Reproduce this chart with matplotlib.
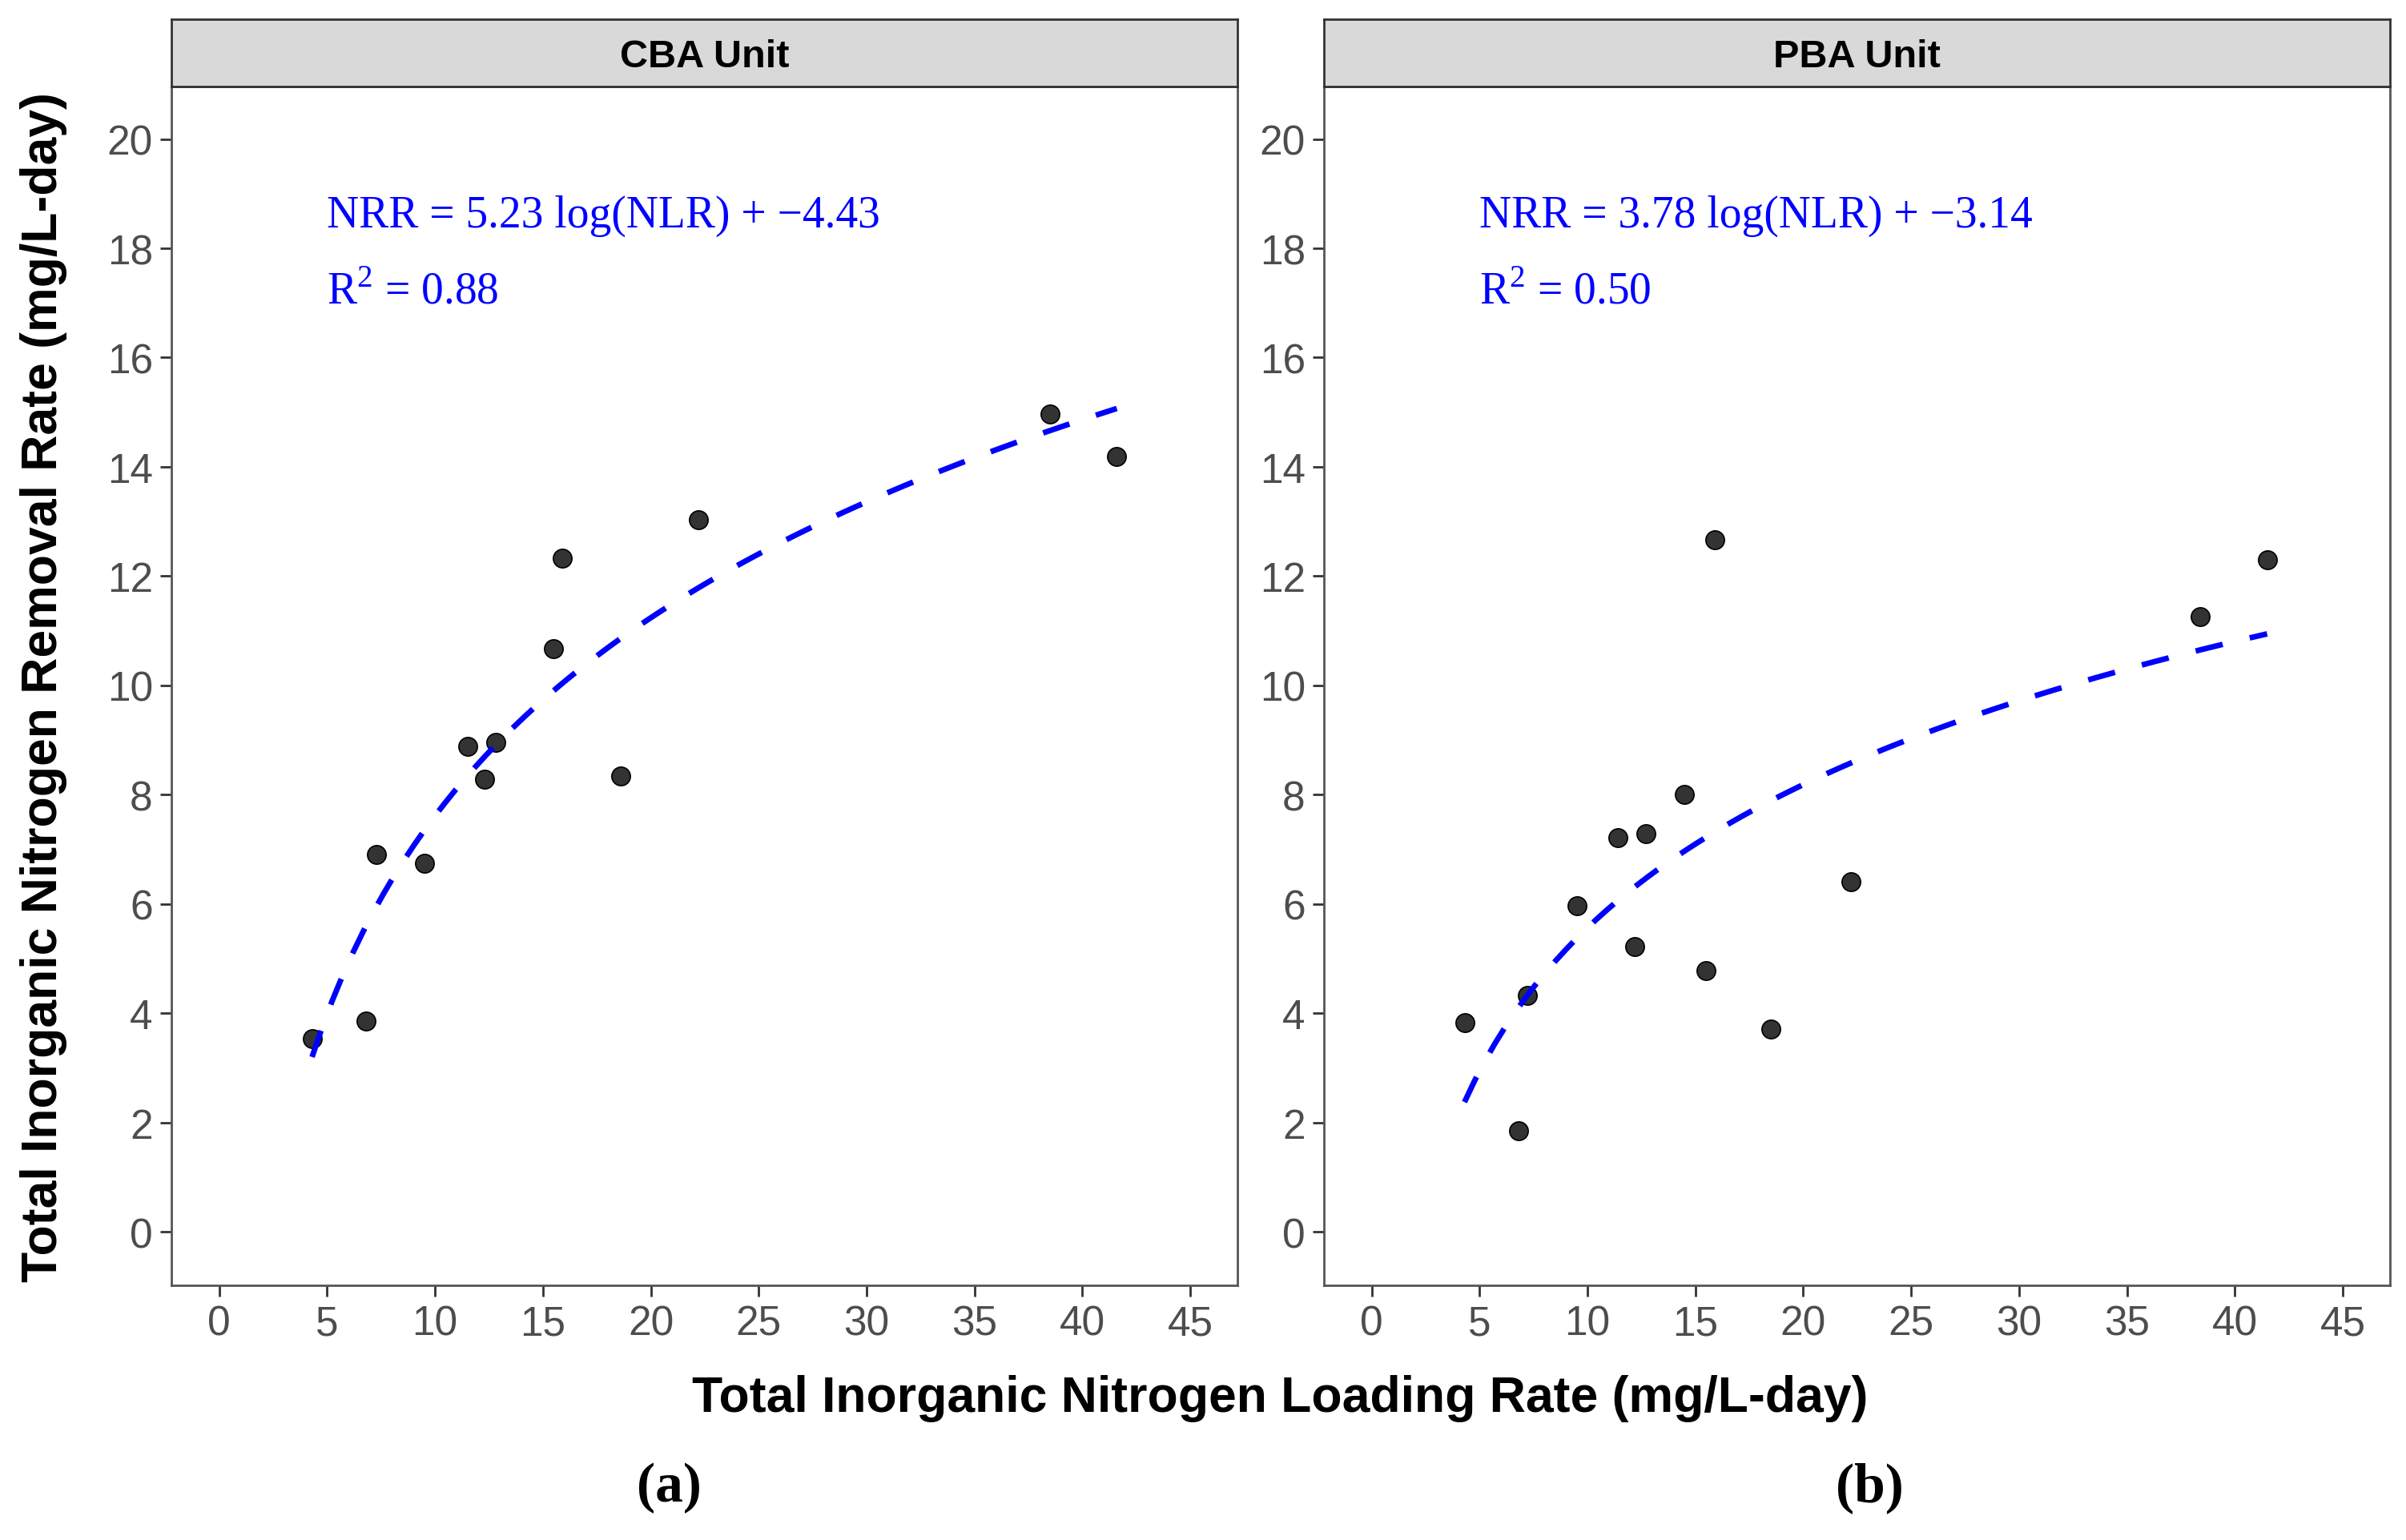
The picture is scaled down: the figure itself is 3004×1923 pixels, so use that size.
import numpy as np
import matplotlib
matplotlib.use('Agg')
import matplotlib.pyplot as plt

# data
cba_nlr = [4.3, 6.8, 7.3, 9.5, 11.5, 12.3, 12.8, 15.5, 15.9, 18.6, 22.2, 38.5, 41.6]
cba_nrr = [3.54, 3.85, 6.91, 6.74, 8.88, 8.29, 8.96, 10.67, 12.33, 8.34, 13.03, 14.97, 14.19]

pba_nlr = [4.3, 6.8, 7.2, 9.5, 11.4, 12.2, 12.7, 14.5, 15.5, 15.9, 18.5, 22.2, 38.4, 41.5]
pba_nrr = [3.82, 1.85, 4.33, 5.96, 7.22, 5.22, 7.28, 8.01, 4.78, 12.67, 3.71, 6.40, 11.26, 12.30]

# fitted log models (coefficients as printed on the chart)
cba_fit = (5.23, -4.43, '0.88')
pba_fit = (3.78, -3.14, '0.50')

panels = [('CBA Unit', cba_nlr, cba_nrr, cba_fit, '(a)'),
          ('PBA Unit', pba_nlr, pba_nrr, pba_fit, '(b)')]

xticks = list(range(0, 50, 5))
yticks = list(range(0, 22, 2))

plt.rcParams['font.family'] = 'Liberation Sans'
plt.rcParams['mathtext.fontset'] = 'custom'
plt.rcParams['mathtext.rm'] = 'Liberation Serif'

fig = plt.figure(figsize=(15.02, 9.62), dpi=200)
lefts = [0.0714, 0.5504]
tag_x = [0.278, 0.777]
ax_w = 0.443
ax_b = 0.1653
ax_h = 0.778
strip_h = 0.0438

for left, tx, (title, x, y, fit, tag) in zip(lefts, tag_x, panels):
    ax = fig.add_axes([left, ax_b, ax_w, ax_h])
    a, b, r2 = fit
    xs = np.linspace(min(x), max(x), 80)
    ax.plot(xs, a*np.log(xs) + b, color='blue', lw=2.5, dashes=(5, 5), zorder=3)
    ax.scatter(x, y, s=70, color='#333333', edgecolor='black', linewidth=0.6, zorder=2)

    ax.set_xlim(-2.2, 47.2)
    ax.set_ylim(-0.98, 20.96)
    ax.set_xticks(xticks)
    ax.set_yticks(yticks)
    ax.tick_params(labelsize=18.5, labelcolor='#4D4D4D', color='#333333', length=5, width=1)
    for s in ax.spines.values():
        s.set_color('#555555')
        s.set_linewidth(1.0)

    ax.text(5.0, 18.6, 'NRR = %.2f log(NLR) + \u2212%.2f' % (a, -b), color='blue',
            fontsize=20, family='Liberation Serif', va='center')
    ax.text(5.0, 17.2, r'$\mathrm{R}^{2}$ = ' + r2, color='blue',
            fontsize=20, family='Liberation Serif', va='center')

    # facet strip
    sax = fig.add_axes([left, ax_b + ax_h, ax_w, strip_h])
    sax.set_facecolor('#D9D9D9')
    sax.set_xticks([])
    sax.set_yticks([])
    for s in sax.spines.values():
        s.set_color('#333333')
        s.set_linewidth(1.0)
    sax.text(0.5, 0.45, title, ha='center', va='center', fontsize=17.5, fontweight='bold',
             transform=sax.transAxes)

    fig.text(tx, 0.034, tag, ha='center', va='center', fontsize=25,
             family='Liberation Serif', fontweight='bold')

fig.text(0.532, 0.092, 'Total Inorganic Nitrogen Loading Rate (mg/L-day)', ha='center',
         va='center', fontsize=22.5, fontweight='bold')
fig.text(0.018, 0.554, 'Total Inorganic Nitrogen Removal Rate (mg/L-day)', ha='center',
         va='center', rotation=90, fontsize=22.5, fontweight='bold')

fig.savefig('out.png', dpi=200, facecolor='white')
